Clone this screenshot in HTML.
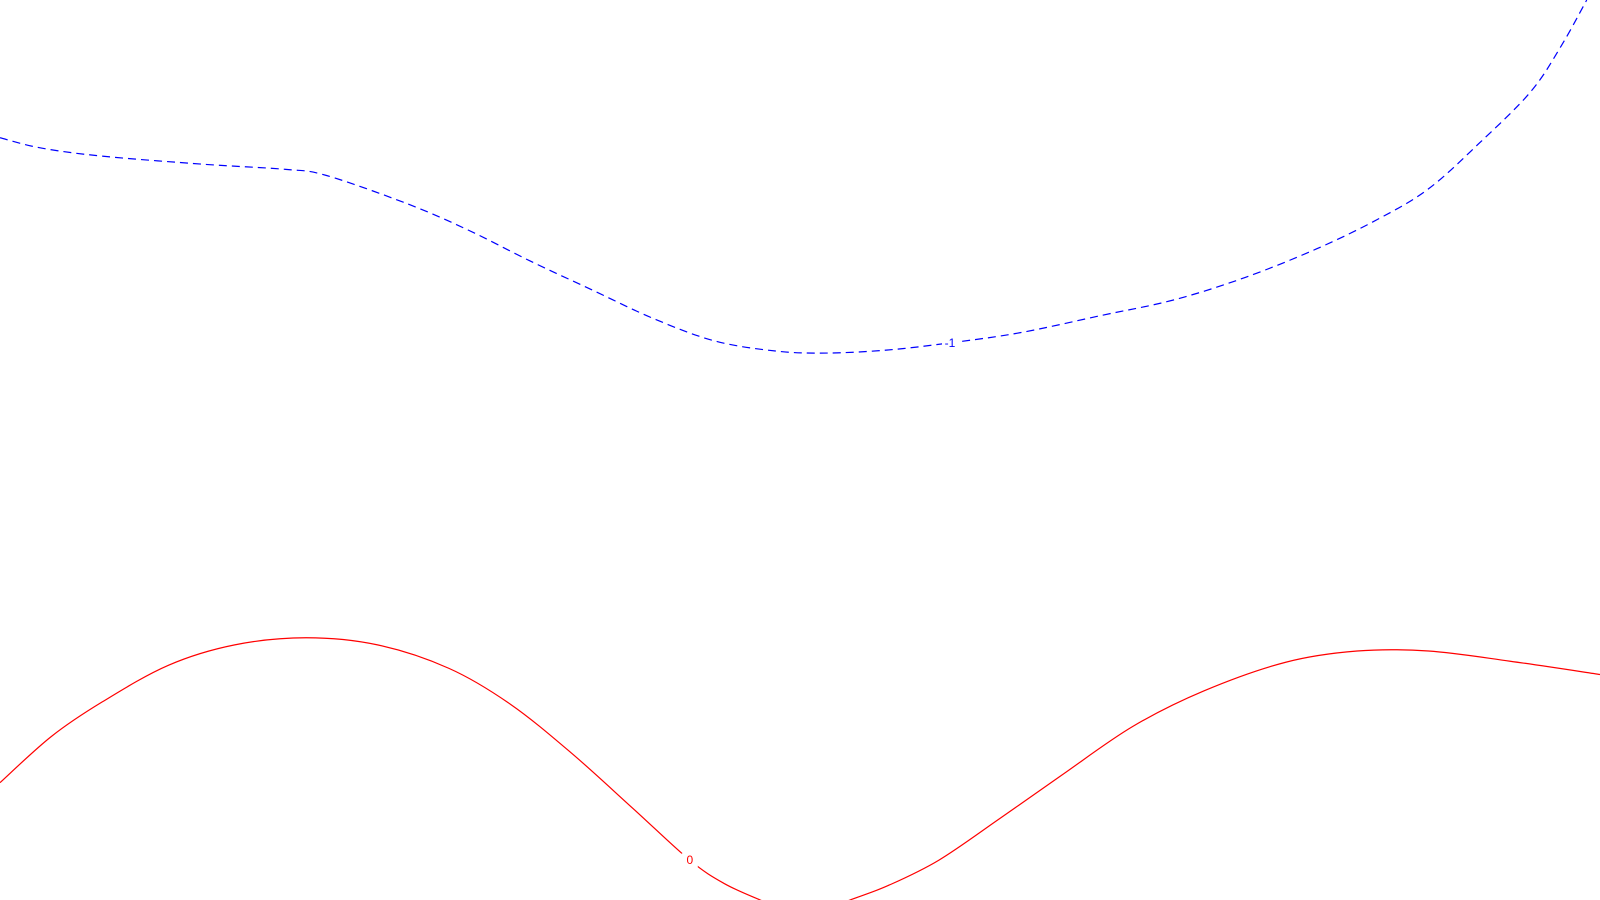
<!DOCTYPE html>
<html><head><meta charset="utf-8"><style>
html,body{margin:0;padding:0;background:#fff;width:1600px;height:900px;overflow:hidden}
svg{display:block}
text{font-family:"Liberation Sans",sans-serif;font-size:12px}
</style></head><body>
<svg id="chart" width="1600" height="900" viewBox="0 0 1600 900">
<defs><clipPath id="clip"><rect x="0" y="0" width="1600" height="900"/></clipPath></defs>
<g id="plot" clip-path="url(#clip)"></g>
</svg>
<script>
// contour level -1 (blue, dashed)
const blueX = [0,40,100,200,280,320,400,460,520,580,640,700,760,810,870,931,1000,1080,1150,1220,1290,1350,1400,1450,1500,1530,1555];
const blueY = [135,145,153,161,166,172,200,226,256,284,312,334,344,346,343,336,326,309,294,272,244,215,185,140,90,45,0];
// contour level 0 (red, solid) segment A and B
const redAX = [0,50,100,165,230,300,370,440,500,560,620,676,710,745,760];
const redAY = [767,722,688,652,632,625,632,655,690,738,792,843,866,882,888];
const redBX = [820,833,870,920,980,1040,1110,1180,1260,1330,1400,1480,1568];
const redBY = [888,882,868,843,802,760,712,677,649,638,638,648,661];
const levels = ["-1","0"];
const labelPos = [[931,336],[676,843]];

const S = 1600/1568;
const xs = v => v*S;            // x axis function (data units -> px)
const ys = v => v*S;            // y axis function
function path(X,Y){
  const p = X.map((x,i)=>[xs(x),ys(Y[i])]);
  let d = `M${p[0][0]},${p[0][1]}`;
  for(let i=0;i<p.length-1;i++){
    const p0=p[Math.max(i-1,0)],p1=p[i],p2=p[i+1],p3=p[Math.min(i+2,p.length-1)];
    const c1=[p1[0]+(p2[0]-p0[0])/6,p1[1]+(p2[1]-p0[1])/6];
    const c2=[p2[0]-(p3[0]-p1[0])/6,p2[1]-(p3[1]-p1[1])/6];
    d+=` C${c1[0]},${c1[1]} ${c2[0]},${c2[1]} ${p2[0]},${p2[1]}`;
  }
  return d;
}
const NS="http://www.w3.org/2000/svg";
const g=document.getElementById('plot');
function line(X,Y,color,dash,name){
  const el=document.createElementNS(NS,'path');
  el.setAttribute('d',path(X,Y));
  el.setAttribute('fill','none');
  el.setAttribute('stroke',color);
  el.setAttribute('stroke-width','1.2');
  if(dash) el.setAttribute('stroke-dasharray',dash);
  
  
  g.appendChild(el);
}
line(blueX,blueY,'#0000ff','8 5','contour-line-neg1');
line(redAX,redAY,'#ff0000',null,'contour-line-0-left');
line(redBX,redBY,'#ff0000',null,'contour-line-0-right');
const colors=['#0000ff','#ff0000'];
levels.forEach((lv,i)=>{
  const [lx,ly]=labelPos[i];
  const bg=document.createElementNS(NS,'rect');
  bg.setAttribute('x',xs(lx)-8);bg.setAttribute('y',ys(ly)-7);
  bg.setAttribute('width',16);bg.setAttribute('height',14);bg.setAttribute('fill','#fff');
  
  
  g.appendChild(bg);
  const t=document.createElementNS(NS,'text');
  t.setAttribute('x',xs(lx));t.setAttribute('y',ys(ly)+4);
  t.setAttribute('text-anchor','middle');t.setAttribute('fill',colors[i]);
  t.textContent=lv;
  
  
  g.appendChild(t);
});
</script>
</body></html>
